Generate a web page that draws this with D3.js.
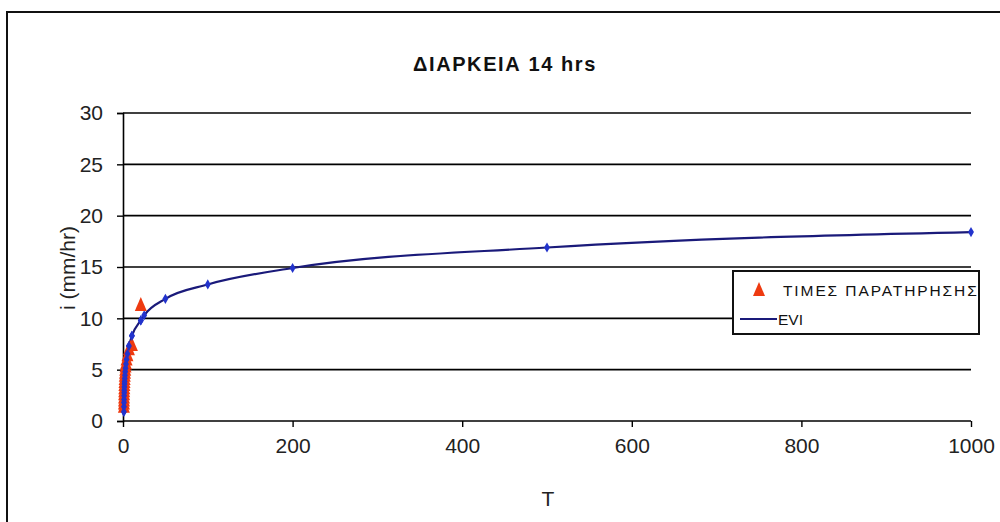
<!DOCTYPE html>
<html><head><meta charset="utf-8">
<script src="https://cdn.jsdelivr.net/npm/d3@7"></script>
<style>body{margin:0;background:#fff}svg{display:block}</style>
</head><body>
<svg id="c" width="1000" height="522"></svg>
<script>
const titleText = "ΔΙΑΡΚΕΙΑ 14 hrs";
const xLabel = "T";
const yLabel = "i (mm/hr)";
const seriesNames = ["ΤΙΜΕΣ ΠΑΡΑΤΗΡΗΣΗΣ", "EVI"];
const xTicks = [0, 200, 400, 600, 800, 1000];
const yTicks = [0, 5, 10, 15, 20, 25, 30];
// observed values (return period T, intensity i)
const obsT = [21, 10.5, 7, 5.25, 4.2, 3.5, 3, 2.625, 2.33, 2.1, 1.91, 1.75, 1.615, 1.5, 1.4, 1.3125, 1.235, 1.167, 1.105, 1.05];
const obsI = [11.3, 7.4, 7.0, 6.4, 6.0, 5.6, 5.3, 5.0, 4.7, 4.4, 4.1, 3.8, 3.5, 3.2, 2.9, 2.6, 2.3, 2.0, 1.7, 1.4];
// EV1 fitted curve
const eviT = [1.05, 1.105, 1.167, 1.235, 1.3125, 1.4, 1.5, 1.615, 1.75, 1.91, 2.1, 2.33, 2.625, 3, 3.5, 4.2, 5.25, 7, 10.5, 21, 25, 50, 100, 200, 500, 1000];
const eviI = [0.9, 1.4, 1.8, 2.1, 2.45, 2.75, 3.0, 3.3, 3.6, 3.85, 4.15, 4.45, 4.8, 5.15, 5.55, 6.0, 6.55, 7.3, 8.3, 9.8, 10.3, 11.9, 13.3, 14.9, 16.9, 18.4];

const svg = d3.select("#c");
const font = "Liberation Sans, Arial, sans-serif";
svg.append("rect").attr("x",7).attr("y",12).attr("width",1000).attr("height",600)
  .attr("fill","#fff").attr("stroke","#111").attr("stroke-width",2);

const x = d3.scaleLinear().domain([0,1000]).range([123,971]);
const y = d3.scaleLinear().domain([0,30]).range([421,113]);

// gridlines
svg.append("g").selectAll("line").data(yTicks).join("line")
  .attr("x1",x(0)).attr("x2",x(1000)).attr("y1",d=>y(d)).attr("y2",d=>y(d))
  .attr("stroke","#000").attr("stroke-width",1.6);

const yAxis = svg.append("g").attr("transform",`translate(${x(0)},0)`)
  .call(d3.axisLeft(y).tickValues(yTicks).tickSize(6).tickPadding(14).tickFormat(d3.format("d")));
const xAxis = svg.append("g").attr("transform",`translate(0,${y(0)})`)
  .call(d3.axisBottom(x).tickValues(xTicks).tickSize(6).tickPadding(11).tickFormat(d3.format("d")));
[yAxis,xAxis].forEach(a=>{
  a.selectAll("path").attr("stroke","#000").attr("stroke-width",1.6);
  a.selectAll("line").attr("stroke","#000").attr("stroke-width",1.4);
  a.selectAll("text").attr("font-family",font).attr("font-size",21).attr("fill","#222");
});
xAxis.select(".domain").remove();

svg.append("text").attr("x",505).attr("y",71).attr("text-anchor","middle")
  .attr("font-family",font).attr("font-weight","bold").attr("font-size",20)
  .attr("letter-spacing",1.6).attr("fill","#111").text(titleText);
svg.append("text").attr("x",548).attr("y",506).attr("text-anchor","middle")
  .attr("font-family",font).attr("font-size",21).attr("fill","#222").text(xLabel);
svg.append("text").attr("transform","translate(75,268) rotate(-90)").attr("text-anchor","middle")
  .attr("font-family",font).attr("font-size",21).attr("fill","#222").text(yLabel);

// EVI line
const eviData = eviT.map((t,i)=>({t, v:eviI[i]}));
svg.append("path").datum(eviData)
  .attr("d", d3.line().x(d=>x(d.t)).y(d=>y(d.v)).curve(d3.curveMonotoneX))
  .attr("fill","none").attr("stroke","#1a1a7a").attr("stroke-width",2.2);
const diamond = d3.symbol().type(d3.symbolDiamond).size(30);
svg.append("g").selectAll("path").data(eviData).join("path")
  .attr("transform",d=>`translate(${x(d.t)},${y(d.v)})`).attr("d",diamond)
  .attr("fill","#2233cc");

// observed triangles
const tri = "M0,-8L6,6L-6,6Z";
svg.append("g").selectAll("path").data(obsT.map((t,i)=>({t,v:obsI[i]}))).join("path")
  .attr("transform",d=>`translate(${x(d.t)},${y(d.v)})`).attr("d",tri)
  .attr("fill","#ee3a10");
// EVI markers visible over the cluster as in reference
svg.append("g").selectAll("path").data(eviData.filter(d=>d.t<25)).join("path")
  .attr("transform",d=>`translate(${x(d.t)},${y(d.v)})`).attr("d",diamond)
  .attr("fill","#2233cc");

// legend
const lg = svg.append("g");
lg.append("rect").attr("x",733).attr("y",271).attr("width",246).attr("height",63)
  .attr("fill","#fff").attr("stroke","#111").attr("stroke-width",2);
lg.append("clipPath").attr("id","lc").append("rect").attr("x",733).attr("y",271).attr("width",245).attr("height",63);
lg.append("path").attr("transform","translate(759,290)").attr("d",tri).attr("fill","#ee3a10");
lg.append("text").attr("x",783).attr("y",296).attr("clip-path","url(#lc)")
  .attr("font-family",font).attr("font-size",15.5).attr("letter-spacing",1.9).attr("fill","#111").text(seriesNames[0]);
lg.append("line").attr("x1",740).attr("x2",777).attr("y1",319).attr("y2",319)
  .attr("stroke","#1a1a7a").attr("stroke-width",2);
lg.append("text").attr("x",778).attr("y",325)
  .attr("font-family",font).attr("font-size",15.5).attr("fill","#111").text(seriesNames[1]);
</script>
</body></html>
